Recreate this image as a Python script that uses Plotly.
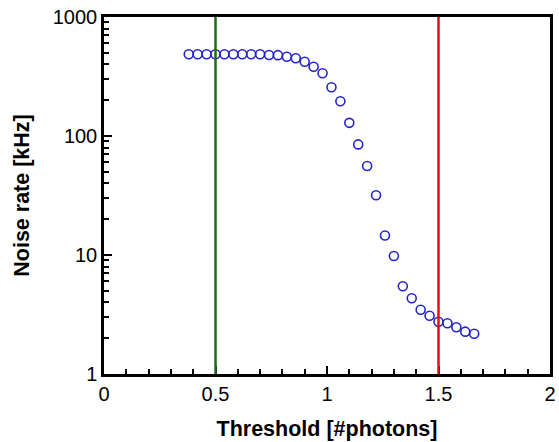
import plotly.graph_objects as go

threshold = [0.38, 0.42, 0.46, 0.50, 0.54, 0.58, 0.62, 0.66, 0.70, 0.74, 0.78,
             0.82, 0.86, 0.90, 0.94, 0.98, 1.02, 1.06, 1.10, 1.14, 1.18, 1.22,
             1.26, 1.30, 1.34, 1.38, 1.42, 1.46, 1.50, 1.54, 1.58, 1.62, 1.66]
noise_rate = [486, 486, 486, 486, 486, 486, 486, 486, 486, 480, 478,
              464, 450, 421, 382, 337, 257, 196, 129, 85, 56, 31.8,
              14.6, 9.8, 5.46, 4.33, 3.47, 3.09, 2.75, 2.67, 2.47, 2.27, 2.18]
green_x = 0.5
red_x = 1.5

fig = go.Figure()
fig.add_trace(go.Scatter(
    x=threshold, y=noise_rate, mode="markers",
    marker=dict(symbol="circle-open", size=9, color="#2424c8", line=dict(width=1.6, color="#2424c8")),
    showlegend=False,
))
fig.add_vline(x=green_x, line=dict(color="#1b6e1b", width=2.5))
fig.add_vline(x=red_x, line=dict(color="#dd1111", width=2.5))

font = "Liberation Sans, Arial, sans-serif"
fig.update_layout(
    width=559, height=442,
    margin=dict(l=104, r=9, t=17, b=68),
    plot_bgcolor="white", paper_bgcolor="white",
    font=dict(family=font, size=20, color="black"),
    xaxis=dict(
        range=[0, 2], tickvals=[0, 0.5, 1, 1.5, 2], ticktext=["0", "0.5", "1", "1.5", "2"],
        ticks="inside", ticklen=8, tickwidth=2, tickcolor="black",
        minor=dict(ticks="inside", ticklen=5, tickwidth=1.5, tickcolor="black", dtick=0.1),
        showline=True, linewidth=2.5, linecolor="black", mirror=True,
        showgrid=False, zeroline=False, automargin=False, ticklabeloverflow="allow",
        title=dict(text="<b>Threshold [#photons]</b>", font=dict(size=21.5), standoff=18),
    ),
    yaxis=dict(
        type="log", range=[0, 3], tickvals=[1, 10, 100, 1000], ticktext=["1", "10", "100", "1000"],
        ticks="inside", ticklen=8, tickwidth=2, tickcolor="black",
        minor=dict(ticks="inside", ticklen=5, tickwidth=1.5, tickcolor="black",
                   tickvals=[m * d for d in (1, 10, 100) for m in range(2, 10)]),
        showline=True, linewidth=2.5, linecolor="black", mirror=True,
        showgrid=False, zeroline=False, automargin=False, ticklabeloverflow="allow",
        title=dict(text="<b>Noise rate [kHz]</b>", font=dict(size=21.5), standoff=18),
    ),
)
fig.write_html("out.html")
